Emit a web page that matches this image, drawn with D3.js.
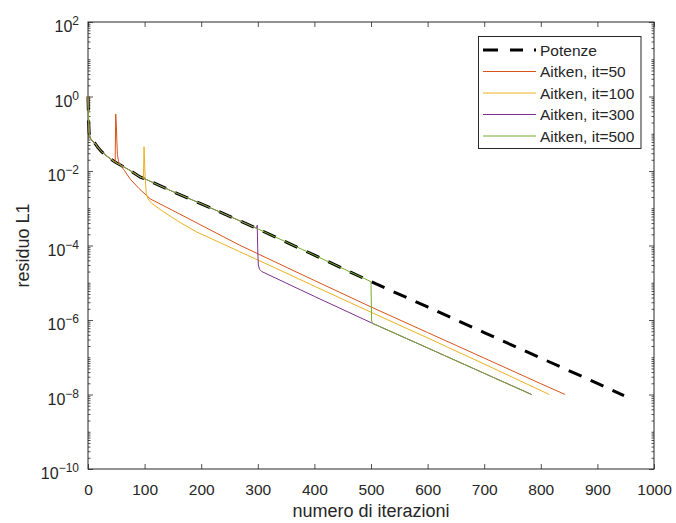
<html>
<head>
<meta charset="utf-8">
<style>
  body { margin: 0; background: #fff; }
  text { font-family: "Liberation Sans", Arial, sans-serif; fill: #262626; }
</style>
</head>
<body>
<div id="chart"></div>
<script src="https://cdn.jsdelivr.net/npm/d3@7"></script>
<script>
var W = 676, H = 523
var box = {left: 88, right: 654, top: 22, bottom: 469}

// Potenze (metodo delle potenze)
var potenzeIt  = [0, 1, 2, 3, 5, 8, 12, 18, 24, 32, 42, 50, 62, 75, 92, 100, 150, 200, 300, 400, 500, 600, 700, 800, 900, 947]
var potenzeRes = [1.0, 0.25, 0.11, 0.085, 0.072, 0.063, 0.056, 0.042, 0.033, 0.026, 0.020, 0.0166, 0.0132, 0.0102, 0.0069,
                  6.2e-3, 2.8e-3, 1.32e-3, 2.8e-4, 5.5e-5, 1.07e-5, 2.24e-6, 4.6e-7, 9.5e-8, 2.0e-8, 9.3e-9]

// Aitken: part after leaving the Potenze curve
var aitken50It   = [48, 49, 50, 51, 52, 54, 58, 64, 74, 90, 110, 150, 200, 268, 300, 400, 500, 600, 700, 800, 843]
var aitken50Res  = [0.0174, 0.34, 0.18, 0.063, 0.028, 0.0178, 0.0138, 0.0105, 6.2e-3, 3.4e-3, 1.78e-3, 8.7e-4, 3.5e-4,
                    1.02e-4, 6.0e-5, 1.15e-5, 2.24e-6, 4.6e-7, 9.5e-8, 1.95e-8, 1.0e-8]
var aitken100It  = [98, 99, 100, 101, 103, 106, 112, 130, 160, 192, 230, 268, 300, 400, 500, 600, 700, 815]
var aitken100Res = [6.5e-3, 0.045, 0.016, 6.3e-3, 2.5e-3, 1.78e-3, 1.38e-3, 8.7e-4, 4.4e-4, 2.3e-4, 1.26e-4, 6.8e-5,
                    4.1e-5, 8.1e-6, 1.62e-6, 3.3e-7, 6.6e-8, 1.0e-8]
var aitken300It  = [298, 299, 300, 301, 303, 307, 400, 503, 600, 700, 784]
var aitken300Res = [2.9e-4, 3.5e-4, 6.3e-5, 3.0e-5, 2.3e-5, 2.0e-5, 4.3e-6, 8.1e-7, 1.78e-7, 3.7e-8, 1.0e-8]
var aitken500It  = [500, 501, 502, 503, 600, 700, 783]
var aitken500Res = [1.07e-5, 1.0e-6, 8.7e-7, 8.1e-7, 1.78e-7, 3.7e-8, 1.0e-8]

var legendLabels = ["Potenze", "Aitken, it=50", "Aitken, it=100", "Aitken, it=300", "Aitken, it=500"]
var colors = ["#000000", "#D95319", "#EDB120", "#7E2F8E", "#77AC30"]
var xTicks = [0, 100, 200, 300, 400, 500, 600, 700, 800, 900, 1000]
var yExp = [-10, -8, -6, -4, -2, 0, 2]

function pairs(its, res) { return its.map(function(d, i){ return {it: d, r: res[i]} }) }
var potenze = pairs(potenzeIt, potenzeRes)
// each Aitken run equals Potenze until its own start iteration
function withPrefix(its, res) {
  return potenze.filter(function(d){ return d.it < its[0] }).concat(pairs(its, res))
}
var series = [
  potenze,
  withPrefix(aitken50It, aitken50Res),
  withPrefix(aitken100It, aitken100Res),
  withPrefix(aitken300It, aitken300Res),
  withPrefix(aitken500It, aitken500Res)
]

var svg = d3.select("#chart").append("svg")
  .attr("width", W).attr("height", H)

var x = d3.scaleLinear().domain([0, 1000]).range([box.left, box.right])
var y = d3.scaleLog().domain([1e-10, 1e2]).range([box.bottom, box.top])

// minor ticks on the log axis
var minors = []
for (var e = -10; e < 2; e++) {
  for (var k = 2; k <= 9; k++) minors.push(k * Math.pow(10, e))
  if (e % 2 !== 0) minors.push(Math.pow(10, e))
}

var axisColor = "#262626"
function styleAxis(g) {
  g.select(".domain").remove()
  g.selectAll("line").attr("stroke", axisColor).attr("stroke-width", 0.8)
}

svg.append("g").attr("transform", "translate(0," + box.bottom + ")")
  .call(d3.axisBottom(x).tickValues(xTicks).tickSize(-5).tickPadding(15).tickFormat(d3.format("d")))
  .call(styleAxis)
  .selectAll("text").style("font-size", "15.5px").attr("fill", axisColor)

svg.append("g").attr("transform", "translate(0," + box.top + ")")
  .call(d3.axisTop(x).tickValues(xTicks).tickSize(-5).tickFormat(""))
  .call(styleAxis)

var majors = yExp.map(function(p){ return Math.pow(10, p) })
svg.append("g").attr("transform", "translate(" + box.left + ",0)")
  .call(d3.axisLeft(y).tickValues(majors).tickSize(-5).tickFormat(""))
  .call(styleAxis)
svg.append("g").attr("transform", "translate(" + box.right + ",0)")
  .call(d3.axisRight(y).tickValues(majors).tickSize(-5).tickFormat(""))
  .call(styleAxis)
svg.append("g").attr("transform", "translate(" + box.left + ",0)")
  .call(d3.axisLeft(y).tickValues(minors).tickSize(-2.5).tickFormat(""))
  .call(styleAxis)
svg.append("g").attr("transform", "translate(" + box.right + ",0)")
  .call(d3.axisRight(y).tickValues(minors).tickSize(-2.5).tickFormat(""))
  .call(styleAxis)

// y tick labels 10^n
var ylab = svg.append("g").selectAll("text").data(yExp).enter().append("text")
  .attr("x", 79)
  .attr("y", function(d){ return y(Math.pow(10, d)) + 10 })
  .attr("text-anchor", "end")
  .style("font-size", "16px")
ylab.append("tspan").text("10")
ylab.append("tspan").attr("dy", -7).style("font-size", "12px")
  .text(function(d){ return d < 0 ? "\u2212" + (-d) : d })

// box
svg.append("rect")
  .attr("x", box.left).attr("y", box.top)
  .attr("width", box.right - box.left).attr("height", box.bottom - box.top)
  .attr("fill", "none").attr("stroke", axisColor).attr("stroke-width", 1)

var line = d3.line().x(function(d){ return x(d.it) }).y(function(d){ return y(d.r) })

series.forEach(function(s, i) {
  svg.append("path")
    .datum(s)
    .attr("d", line)
    .attr("fill", "none")
    .attr("stroke", colors[i])
    .attr("stroke-width", i === 0 ? 3 : 1)
    .attr("stroke-dasharray", i === 0 ? "14,10" : null)
    .attr("stroke-linejoin", "round")
})

// axis titles
svg.append("text")
  .attr("x", (box.left + box.right) / 2).attr("y", 517)
  .attr("text-anchor", "middle").style("font-size", "18px")
  .text("numero di iterazioni")
svg.append("text")
  .attr("transform", "translate(29," + (box.top + box.bottom) / 2 + ") rotate(-90)")
  .attr("text-anchor", "middle").style("font-size", "18px")
  .text("residuo L1")

// legend
var lg = svg.append("g")
lg.append("rect")
  .attr("x", 478.5).attr("y", 36.5).attr("width", 162.5).attr("height", 112)
  .attr("fill", "#fff").attr("stroke", axisColor).attr("stroke-width", 1)
legendLabels.forEach(function(lab, i) {
  var ly = 50 + i * 21.5
  lg.append("line")
    .attr("x1", 483).attr("x2", 536).attr("y1", ly).attr("y2", ly)
    .attr("stroke", colors[i])
    .attr("stroke-width", i === 0 ? 3 : 1)
    .attr("stroke-dasharray", i === 0 ? "15,12,13,11,2,20" : null)
  lg.append("text")
    .attr("x", 540).attr("y", ly + 5.5)
    .style("font-size", "15.5px")
    .text(lab)
})
</script>
</body>
</html>
